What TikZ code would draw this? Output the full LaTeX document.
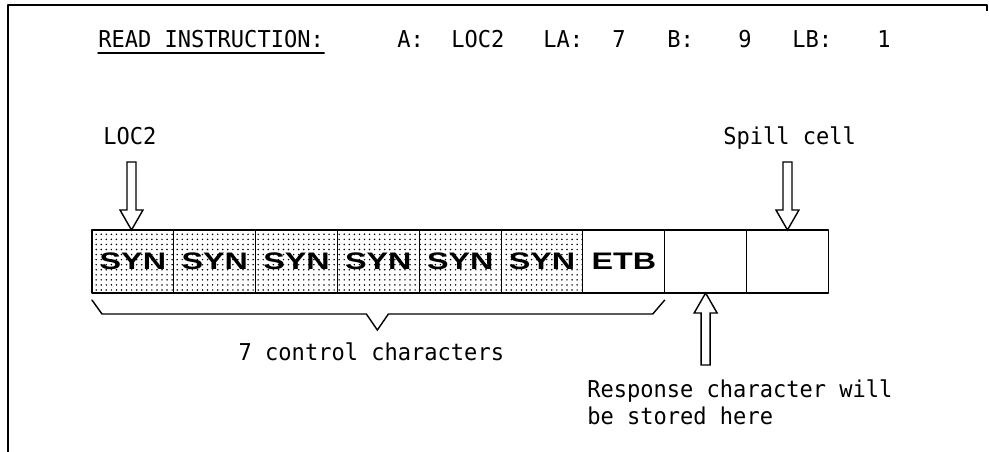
\documentclass[tikz,border=0pt]{standalone}
\usepackage{fontspec}
\newfontfamily\monofont[FakeStretch=0.95]{DejaVu Sans Mono}
\newfontfamily\cellfont[FakeStretch=1.35]{Liberation Sans Bold}
\usetikzlibrary{positioning,calc,patterns.meta}
\tikzset{
	txt/.style={inner sep=0pt, font=\monofont\fontsize{16.5}{19.2}\selectfont},
	cell/.style={draw, line width=0.8pt, outer sep=0pt, inner sep=0pt, minimum width=2.045cm, minimum height=1.575cm, font=\cellfont\fontsize{17}{18}\selectfont},
	syn/.style={pattern={Dots[distance=3.6pt, radius=0.6pt]}},
	arrowlen/.store in=\arrowlen, arrowlen=68,
	hollowarrow/.pic={\draw[fill=white, line width=1pt, line join=miter] (0,0) -- (-11.5,-20) -- (-4.5,-20) -- (-4.5,-\arrowlen) -- (4.5,-\arrowlen) -- (4.5,-20) -- (11.5,-20) -- cycle;}
}
\begin{document}
\begin{tikzpicture}[x=0.025cm, y=-0.025cm, line join=round, line cap=round]
	\useasboundingbox (0,0) rectangle (989,452);
	% frame
	\draw[line width=1.4pt, line cap=butt] (8,452) -- (8,5) -- (987,5) -- (987,11);
	% header
	\node[txt, anchor=base west] (title) at (98,48) {READ INSTRUCTION:};
	\draw[line width=1pt] ([yshift=-3pt]title.south west) -- ([yshift=-3pt]title.south east);
	\node[txt, anchor=base west] (a) at (397,48) {A:};
	\node[txt, anchor=base west] (aval) at (451,48) {LOC2};
	\node[txt, anchor=base west] (la) at (543,48) {LA:};
	\node[txt, anchor=base west] (laval) at (612,48) {7};
	\node[txt, anchor=base west] (b) at (667,48) {B:};
	\node[txt, anchor=base west] (bval) at (738,48) {9};
	\node[txt, anchor=base west] (lb) at (792,48) {LB:};
	\node[txt, anchor=base west] (lbval) at (877,48) {1};
	% cells
	\node[cell, syn] (c1) at (132.9,261.5) {SYN};
	\node[cell, syn, right=0pt of c1] (c2) {SYN};
	\node[cell, syn, right=0pt of c2] (c3) {SYN};
	\node[cell, syn, right=0pt of c3] (c4) {SYN};
	\node[cell, syn, right=0pt of c4] (c5) {SYN};
	\node[cell, syn, right=0pt of c5] (c6) {SYN};
	\node[cell, right=0pt of c6] (c7) {ETB};
	\node[cell, right=0pt of c7] (c8) {};
	\node[cell, right=0pt of c8] (c9) {};
	% pointers
	\node[txt, anchor=base west] (loc2) at (103,145) {LOC2};
	\node[txt, anchor=base west] (spill) at (723,145) {Spill cell};
	\pic at ([xshift=-1pt]c1.north) {hollowarrow};
	\pic at (c9.north) {hollowarrow};
	\pic[arrowlen=72, rotate=180] at (c8.south) {hollowarrow};
	% brace
	\coordinate (brL) at ([yshift=-5pt]c1.south west);
	\coordinate (brR) at ([yshift=-5pt]c7.south east);
	\coordinate (tip) at ($(brL)!0.5!(brR)+(-1,30)$);
	\draw[line width=1pt, line join=miter] (brL) -- ++(10,14) -- ($(tip)+(-11,-16)$) -- (tip) -- ++(11,-16) -- ($(brR)+(-12,14)$) -- (brR);
	\node[txt, anchor=base] (ctrl) at ($(tip)+(-6,30)$) {7 control characters};
	\node[txt, anchor=north west, align=left] (resp) at (587,379) {Response character will\\be stored here};
\end{tikzpicture}
\end{document}
